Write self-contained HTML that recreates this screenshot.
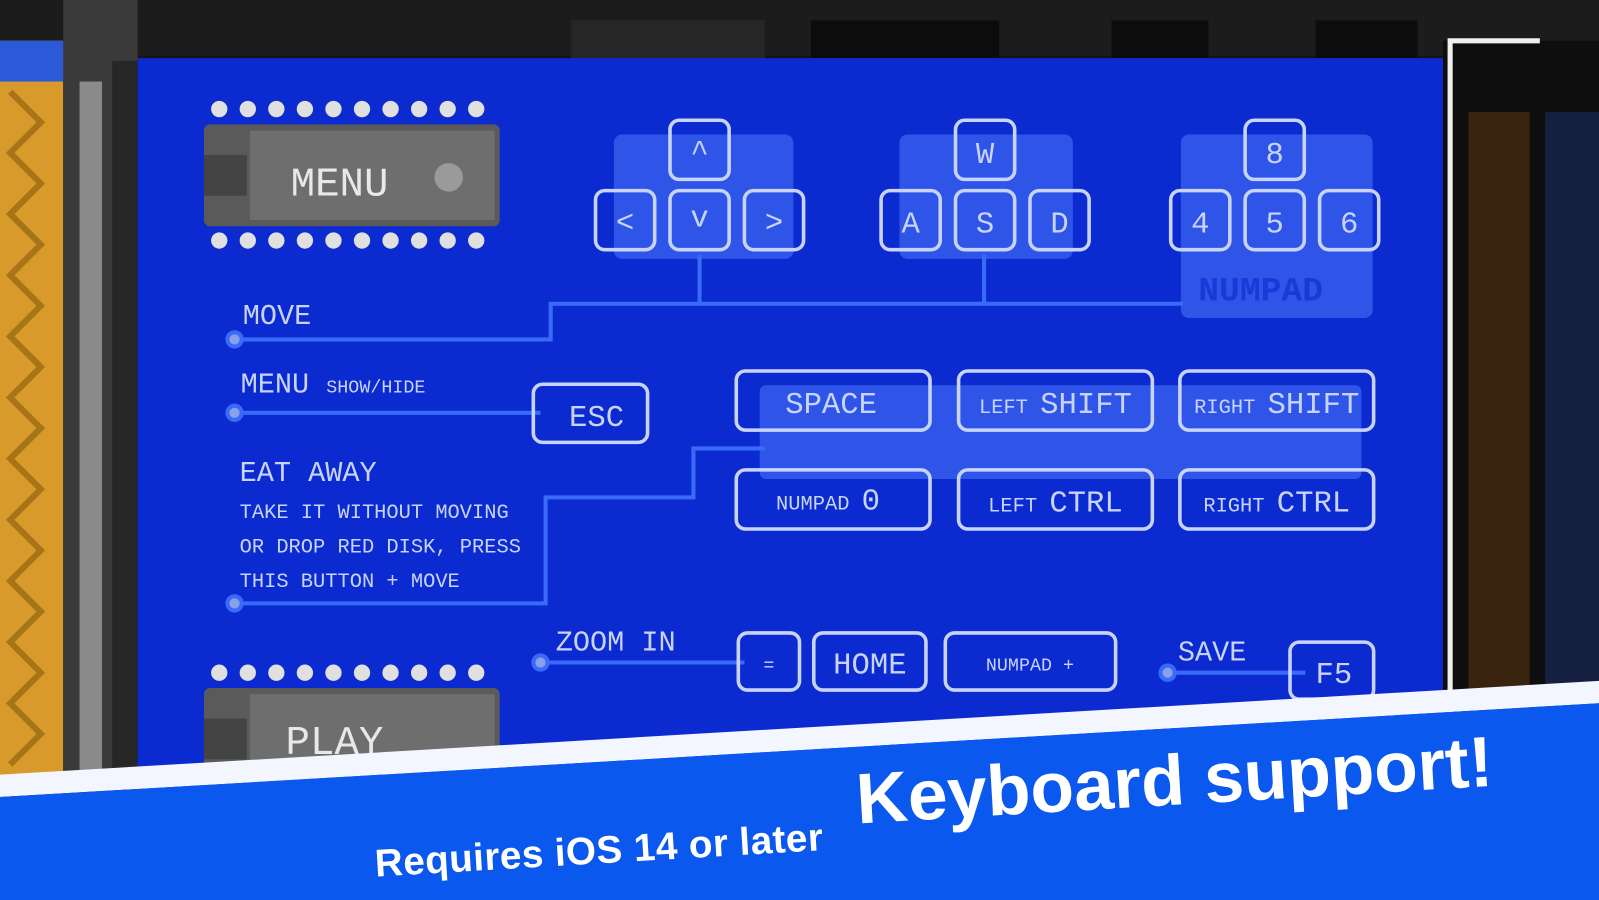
<!DOCTYPE html>
<html><head><meta charset="utf-8"><style>
html,body{margin:0;padding:0;background:#111;overflow:hidden}
svg{display:block}
text{font-family:"Liberation Mono","DejaVu Sans Mono",monospace;fill:#c8d4ff}
</style></head><body>
<svg width="1599" height="900" viewBox="0 0 1568 883" preserveAspectRatio="none" xmlns="http://www.w3.org/2000/svg">
<rect width="1568" height="883" fill="#141414"/>
<rect x="0" y="0" width="1568" height="55" fill="#1c1c1c"/>
<rect x="795" y="20" width="185" height="40" fill="#0c0c0c"/>
<rect x="1090" y="20" width="95" height="40" fill="#0c0c0c"/>
<rect x="1290" y="20" width="100" height="40" fill="#0c0c0c"/>
<rect x="560" y="20" width="190" height="40" fill="#262626"/>
<rect x="0" y="40" width="62" height="730" fill="#d89a2a"/>
<rect x="0" y="40" width="62" height="40" fill="#2a5ad8"/>
<g stroke="#a87418" stroke-width="6" fill="none">
<path d="M10 90 L40 120 L10 150 L40 180 L10 210 L40 240 L10 270 L40 300 L10 330 L40 360 L10 390 L40 420 L10 450 L40 480 L10 510 L40 540 L10 570 L40 600 L10 630 L40 660 L10 690 L40 720 L10 750"/>
</g>
<rect x="62" y="0" width="73" height="770" fill="#3a3a3a"/>
<rect x="78" y="80" width="22" height="680" fill="#8a8a8a"/>
<rect x="110" y="60" width="25" height="700" fill="#262626"/>
<rect x="1415" y="40" width="153" height="740" fill="#0e0e0e"/>
<rect x="1440" y="110" width="60" height="590" fill="#3a2410"/>
<rect x="1515" y="110" width="53" height="590" fill="#152040"/>
<path d="M1422 760 L1422 40 L1510 40" stroke="#f0f0f0" stroke-width="5" fill="none"/>
<rect x="135" y="57" width="1280" height="720" fill="#0b2bd0"/>
<g>
<rect x="200" y="122" width="290" height="100" rx="6" fill="#5a5a5a"/>
<rect x="245" y="128" width="240" height="88" fill="#6e6e6e"/>
<rect x="200" y="152" width="42" height="40" fill="#444"/>
<text x="285" y="192" font-size="40" style="fill:#e8e8e8">MENU</text>
<circle cx="440" cy="174" r="14" fill="#9a9a9a"/>
<g fill="#e0e0e0">
<circle cx="215" cy="107" r="8"/><circle cx="243" cy="107" r="8"/><circle cx="271" cy="107" r="8"/><circle cx="299" cy="107" r="8"/><circle cx="327" cy="107" r="8"/><circle cx="355" cy="107" r="8"/><circle cx="383" cy="107" r="8"/><circle cx="411" cy="107" r="8"/><circle cx="439" cy="107" r="8"/><circle cx="467" cy="107" r="8"/>
<circle cx="215" cy="236" r="8"/><circle cx="243" cy="236" r="8"/><circle cx="271" cy="236" r="8"/><circle cx="299" cy="236" r="8"/><circle cx="327" cy="236" r="8"/><circle cx="355" cy="236" r="8"/><circle cx="383" cy="236" r="8"/><circle cx="411" cy="236" r="8"/><circle cx="439" cy="236" r="8"/><circle cx="467" cy="236" r="8"/>
<circle cx="215" cy="660" r="8"/><circle cx="243" cy="660" r="8"/><circle cx="271" cy="660" r="8"/><circle cx="299" cy="660" r="8"/><circle cx="327" cy="660" r="8"/><circle cx="355" cy="660" r="8"/><circle cx="383" cy="660" r="8"/><circle cx="411" cy="660" r="8"/><circle cx="439" cy="660" r="8"/><circle cx="467" cy="660" r="8"/>
</g>
<rect x="200" y="675" width="290" height="100" rx="6" fill="#5a5a5a"/>
<rect x="245" y="681" width="240" height="88" fill="#6e6e6e"/>
<rect x="200" y="705" width="42" height="40" fill="#444"/>
<text x="280" y="740" font-size="40" style="fill:#e8e8e8">PLAY</text>
</g>
<g fill="#2f55e8">
<rect x="602" y="132" width="176" height="122" rx="8"/>
<rect x="882" y="132" width="170" height="122" rx="8"/>
<rect x="1158" y="132" width="188" height="180" rx="8"/>
<rect x="745" y="378" width="590" height="92" rx="6"/>
</g>
<text x="1175" y="295" font-size="34" font-weight="bold" style="fill:#1a3ad8">NUMPAD</text>
<g stroke="#3a6af8" stroke-width="4" fill="none">
<path d="M230 333 L540 333 L540 298 L1160 298"/>
<path d="M686 250 L686 298 M965 250 L965 298"/>
<path d="M230 405 L530 405"/>
<path d="M230 592 L535 592 L535 488 L680 488 L680 440 L750 440"/>
<path d="M530 650 L730 650"/>
<path d="M1145 660 L1280 660"/>
</g>
<g fill="#8aa0e8" stroke="#3a6af8" stroke-width="4">
<circle cx="230" cy="333" r="7"/><circle cx="230" cy="405" r="7"/><circle cx="230" cy="592" r="7"/><circle cx="530" cy="650" r="7"/><circle cx="1145" cy="660" r="7"/>
</g>
<g fill="none" stroke="#c8d4ff" stroke-width="3.5">
<rect x="657" y="118" width="58" height="58" rx="9"/>
<rect x="584" y="187" width="58" height="58" rx="9"/>
<rect x="657" y="187" width="58" height="58" rx="9"/>
<rect x="730" y="187" width="58" height="58" rx="9"/>
<rect x="937" y="118" width="58" height="58" rx="9"/>
<rect x="864" y="187" width="58" height="58" rx="9"/>
<rect x="937" y="187" width="58" height="58" rx="9"/>
<rect x="1010" y="187" width="58" height="58" rx="9"/>
<rect x="1221" y="118" width="58" height="58" rx="9"/>
<rect x="1148" y="187" width="58" height="58" rx="9"/>
<rect x="1221" y="187" width="58" height="58" rx="9"/>
<rect x="1294" y="187" width="58" height="58" rx="9"/>
<rect x="523" y="377" width="112" height="57" rx="9"/>
<rect x="722" y="364" width="190" height="58" rx="9"/>
<rect x="940" y="364" width="190" height="58" rx="9"/>
<rect x="1157" y="364" width="190" height="58" rx="9"/>
<rect x="722" y="461" width="190" height="58" rx="9"/>
<rect x="940" y="461" width="190" height="58" rx="9"/>
<rect x="1157" y="461" width="190" height="58" rx="9"/>
<rect x="724" y="621" width="60" height="56" rx="9"/>
<rect x="798" y="621" width="110" height="56" rx="9"/>
<rect x="927" y="621" width="167" height="56" rx="9"/>
<rect x="1265" y="630" width="82" height="56" rx="9"/>
</g>
<g font-size="30" text-anchor="middle">
<text x="686" y="158">^</text><text x="613" y="227">&lt;</text><text x="686" y="222">v</text><text x="759" y="227">&gt;</text>
<text x="966" y="160">W</text><text x="893" y="228">A</text><text x="966" y="228">S</text><text x="1039" y="228">D</text>
<text x="1250" y="160">8</text><text x="1177" y="228">4</text><text x="1250" y="228">5</text><text x="1323" y="228">6</text>
<text x="585" y="418">ESC</text>
<text x="815" y="405">SPACE</text>
<text x="1035" y="405"><tspan font-size="20">LEFT </tspan>SHIFT</text>
<text x="1252" y="405"><tspan font-size="20">RIGHT </tspan>SHIFT</text>
<text x="812" y="500"><tspan font-size="20">NUMPAD </tspan>0</text>
<text x="1035" y="502"><tspan font-size="20">LEFT </tspan>CTRL</text>
<text x="1252" y="502"><tspan font-size="20">RIGHT </tspan>CTRL</text>
<text x="754" y="658" font-size="18">=</text>
<text x="853" y="661">HOME</text>
<text x="1010" y="658" font-size="18">NUMPAD +</text>
<text x="1308" y="670">F5</text>
</g>
<g font-size="28">
<text x="238" y="318">MOVE</text>
<text x="236" y="385">MENU <tspan font-size="18">SHOW/HIDE</tspan></text>
<text x="235" y="472">EAT AWAY</text>
<text x="235" y="508" font-size="20">TAKE IT WITHOUT MOVING</text>
<text x="235" y="542" font-size="20">OR DROP RED DISK, PRESS</text>
<text x="235" y="576" font-size="20">THIS BUTTON + MOVE</text>
<text x="545" y="638">ZOOM IN</text>
<text x="1155" y="648">SAVE</text>
</g>
<polygon points="0,760 1568,668 1568,690 0,782" fill="#f4f6ff"/>
<polygon points="0,782 1568,690 1568,883 0,883" fill="#0a58ee"/>
<g transform="rotate(-3.4 840 790)">
<text x="840" y="808" font-weight="bold" font-size="70" textLength="625" style="fill:#fff;font-family:'Liberation Sans',sans-serif">Keyboard support!</text>
<text x="365" y="832" font-weight="bold" font-size="38" textLength="440" style="fill:#fff;font-family:'Liberation Sans',sans-serif">Requires iOS 14 or later</text>
</g>
</svg>
</body></html>
